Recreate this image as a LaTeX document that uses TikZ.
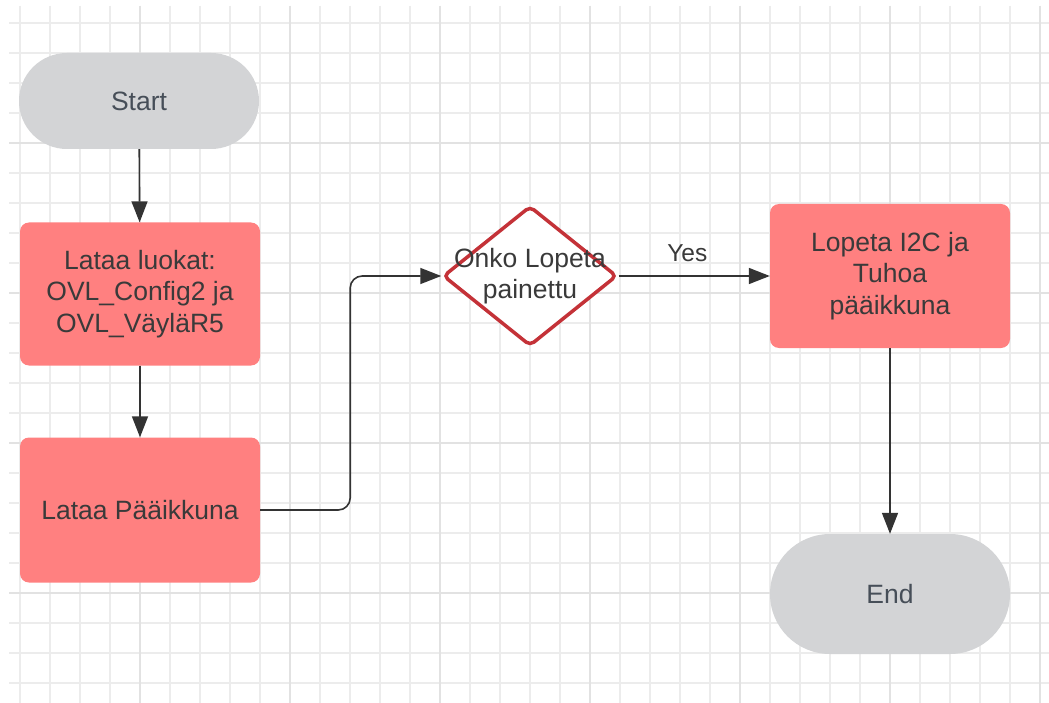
\documentclass[tikz,border=0pt]{standalone}
\usepackage{fontspec}
\setmainfont{Liberation Sans}
\usetikzlibrary{shapes.geometric,shapes.misc,arrows.meta}
\definecolor{gridc}{RGB}{236,236,236}
\definecolor{gridm}{RGB}{226,226,226}
\definecolor{boxred}{RGB}{255,128,128}
\definecolor{termgray}{RGB}{211,212,214}
\definecolor{decred}{RGB}{196,50,56}
\definecolor{txt}{RGB}{58,58,58}
\definecolor{termtxt}{RGB}{70,78,88}
\definecolor{linec}{RGB}{51,51,51}
\tikzset{
  lbl/.style={font=\fontsize{26.5}{31.5}\selectfont, text=txt, align=center},
  procbox/.style={lbl, fill=boxred, rounded corners=9pt, minimum width=240pt, minimum height=144pt, inner sep=0pt},
  term/.style={lbl, text=termtxt, fill=termgray, rounded rectangle, minimum width=240pt, inner sep=0pt},
  dia/.style={diamond, draw=decred, line width=3.5pt, rounded corners=5pt, minimum width=174pt, minimum height=140pt, inner sep=0pt, fill=white},
  conn/.style={draw=linec, line width=1.6pt, -{Triangle[length=21pt,width=16pt]}},
}
\begin{document}
\begin{tikzpicture}[x=1pt,y=-1pt]
\useasboundingbox (0,0) rectangle (1049,703);
\fill[white] (0,0) rectangle (1049,703);
% grid
\foreach \i in {0,...,34} {
  \pgfmathtruncatemacro{\gx}{20+30*\i}
  \draw[gridc, line width=2pt] (\gx,6) -- (\gx,703);
}
\foreach \j in {0,...,22} {
  \pgfmathtruncatemacro{\gy}{23+30*\j}
  \draw[gridc, line width=2pt] (9,\gy) -- (1049,\gy);
}
\foreach \gx in {140,290,440,590,740,890,1040} \draw[gridm, line width=2pt] (\gx,6) -- (\gx,703);
\foreach \gy in {143,293,443,593} \draw[gridm, line width=2pt] (9,\gy) -- (1049,\gy);
% nodes
\node[term, minimum height=96pt] (start) at (139,101) {Start};
\node[procbox, minimum height=143pt] (load) at (140,294) {Lataa luokat:\\OVL\_Config2 ja\\OVL\_VäyläR5};
\node[procbox, minimum height=145pt] (main) at (140,510) {Lataa Pääikkuna};
\node[dia] (dec) at (530,276) {};
\node[lbl] (dect) at (dec.center) {Onko Lopeta\\painettu};
\node[procbox] (stop) at (890,276) {Lopeta I2C ja\\Tuhoa\\pääikkuna};
\node[term, minimum height=120pt] (end) at (890,594) {End};
% connectors
\draw[conn] (start) -- (load);
\draw[conn] (load) -- (main);
\draw[conn, rounded corners=12pt] (main.east) -- ([xshift=90pt]main.east) |- (dec.west);
\draw[conn] (dec.east) -- node[lbl, font=\fontsize{24.5}{28}\selectfont, above=10pt, xshift=-7pt] (yes) {Yes} (stop.west);
\draw[conn] (stop) -- (end);
\end{tikzpicture}
\end{document}
